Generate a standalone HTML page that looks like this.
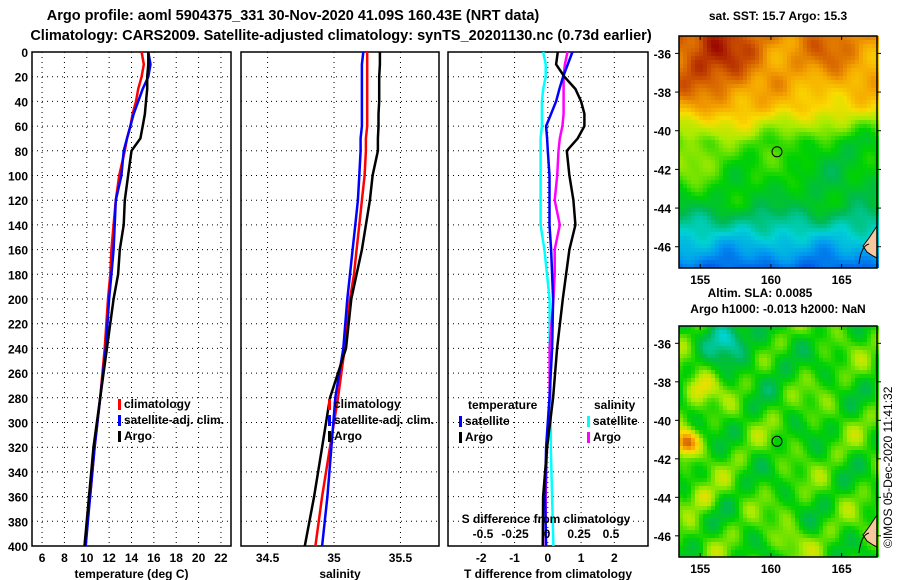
<!DOCTYPE html>
<html><head><meta charset="utf-8"><style>
body{margin:0;background:#fff;}
svg{display:block;font-family:"Liberation Sans",sans-serif;font-weight:bold;}
</style></head><body>
<svg id="c" width="900" height="580" viewBox="0 0 900 580" xmlns="http://www.w3.org/2000/svg">
<text x="293" y="20" font-size="14.5" text-anchor="middle">Argo profile: aoml 5904375_331 30-Nov-2020 41.09S 160.43E (NRT data)</text>
<text x="341" y="40" font-size="14.5" text-anchor="middle">Climatology: CARS2009. Satellite-adjusted climatology: synTS_20201130.nc (0.73d earlier)</text>
<g id="p1"></g>
<g id="p2"></g>
<g id="p3"></g>
<g id="m1"></g>
<g id="m2"></g>
<text x="778" y="20" font-size="12" text-anchor="middle">sat. SST: 15.7 Argo: 15.3</text>
<text x="760" y="297" font-size="12" text-anchor="middle">Altim. SLA: 0.0085</text>
<text x="778" y="313" font-size="12" text-anchor="middle">Argo h1000: -0.013 h2000: NaN</text>
<text x="0" y="0" font-size="12" font-weight="normal" transform="translate(892,548) rotate(-90)">©IMOS 05-Dec-2020 11:41:32</text>
</svg>
<script>
const depths=[0,10,20,30,40,50,60,70,80,100,120,140,160,180,200,240,280,320,360,400];
const tArgo=[15.5,15.5,15.4,15.4,15.3,15.2,15.0,14.8,14.0,13.7,13.4,13.3,12.95,12.8,12.4,11.8,11.2,10.6,10.2,9.8];
const tClim=[14.9,15.1,14.9,14.6,14.4,14.1,13.9,13.6,13.4,12.9,12.6,12.4,12.2,12.1,11.9,11.6,11.2,10.7,10.3,9.8];
const tSat=[15.5,15.7,15.5,15.0,14.6,14.2,13.9,13.6,13.3,13.1,12.6,12.5,12.4,12.2,12.0,11.7,11.2,10.7,10.3,9.9];
const sArgo=[35.345,35.345,35.34,35.34,35.34,35.335,35.335,35.33,35.33,35.29,35.27,35.24,35.21,35.17,35.13,35.09,34.97,34.91,34.85,34.78];
const sClim=[35.25,35.25,35.25,35.25,35.25,35.25,35.25,35.24,35.24,35.23,35.21,35.19,35.17,35.15,35.12,35.08,35.03,34.97,34.91,34.86];
const sSat=[35.22,35.21,35.21,35.21,35.21,35.21,35.21,35.20,35.20,35.19,35.18,35.16,35.14,35.12,35.10,35.07,35.01,34.98,34.95,34.91];
const dTSat=[0.74,0.6,0.46,0.35,0.25,0.1,-0.05,-0.02,0,0.05,0.05,0.05,0.1,0.13,0.16,0.13,0.05,-0.05,-0.08,-0.05];
const dTArgo=[0.3,0.25,0.5,0.83,1.0,1.1,1.1,0.9,0.57,0.65,0.77,0.83,0.65,0.55,0.45,0.28,0.16,-0.02,-0.14,-0.15];
const dSSat=[-0.03,-0.01,-0.01,-0.03,-0.04,-0.04,-0.04,-0.05,-0.05,-0.05,-0.05,-0.05,-0.02,0.0,0.02,0.02,0.03,0.03,0.04,0.05];
const dSArgo=[0.16,0.14,0.13,0.13,0.13,0.13,0.12,0.1,0.09,0.08,0.06,0.1,0.06,0.06,0.05,0.02,0.02,0.0,-0.01,-0.01];
const depthTicks=[0,20,40,60,80,100,120,140,160,180,200,220,240,260,280,300,320,340,360,380,400];
const tTicks=[6,8,10,12,14,16,18,20,22];
const sTicks=[34.5,35,35.5];
const dTTicks=[-2,-1,0,1,2];
const dSTicks=[-0.5,-0.25,0,0.25,0.5];
const latTicks=[-36,-38,-40,-42,-44,-46];
const lonTicks=[155,160,165];

const NS='http://www.w3.org/2000/svg';
function mk(parent,tag,attrs,text){const e=document.createElementNS(NS,tag);for(const k in attrs)e.setAttribute(k,attrs[k]);if(text!==undefined)e.textContent=text;parent.appendChild(e);return e;}
const Y0=52,Y1=546;
const yD=d=>Y0+(d/400)*(Y1-Y0);
function lin(d0,d1,r0,r1){return v=>r0+(v-d0)/(d1-d0)*(r1-r0);}

function panel(g,x0,x1,xs,xt,xlabel,showY){
  mk(g,'rect',{x:x0,y:Y0,width:x1-x0,height:Y1-Y0,fill:'#fff',stroke:'#000','stroke-width':1.5});
  depthTicks.forEach(d=>{
    if(d>0&&d<400){const l=mk(g,'line',{x1:x0,x2:x1,y1:yD(d),y2:yD(d),stroke:'#000','stroke-dasharray':'1,4'});}
    if(showY){const t=mk(g,'text',{x:x0-4,y:yD(d)+5,'font-size':12,'text-anchor':'end'},d);}
  });
  xt.forEach(v=>{
    const x=xs(v);
    const l=mk(g,'line',{x1:x,x2:x,y1:Y0,y2:Y1,stroke:'#000','stroke-dasharray':'1,4'});
    
    const t=mk(g,'text',{x:x,y:562,'font-size':12,'text-anchor':'middle'},v);
    
  });
  const t=mk(g,'text',{x:(x0+x1)/2,y:578,'font-size':12,'text-anchor':'middle'},xlabel);
  
}
function series(g,vals,xs,color,name){
  const pts=vals.map((v,i)=>xs(v).toFixed(1)+','+yD(depths[i]).toFixed(1)).join(' ');
  const p=mk(g,'polyline',{points:pts,fill:'none',stroke:color,'stroke-width':2.5});
  
  
}
function legend(g,x,y,items){
  items.forEach((it,i)=>{
    const yy=y+i*16;
    const r=mk(g,'rect',{x:x,y:yy-9,width:3,height:11,fill:it[1]});
    
    const t=mk(g,'text',{x:x+6,y:yy,'font-size':12},it[0]);
    
  });
}
const p1=document.getElementById('p1');
const xT=lin(5.1,22.9,32,231);
panel(p1,32,231,xT,tTicks,'temperature (deg C)',true);
series(p1,tClim,xT,'#f00','temp-climatology-line');
series(p1,tSat,xT,'#00f','temp-satellite-line');
series(p1,tArgo,xT,'#000','temp-argo-line');
legend(p1,118,408,[['climatology','#f00'],['satellite-adj. clim.','#00f'],['Argo','#000']]);
const p2=document.getElementById('p2');
const xS=lin(34.3,35.79,241,439);
panel(p2,241,439,xS,sTicks,'salinity',false);
series(p2,sClim,xS,'#f00','sal-climatology-line');
series(p2,sSat,xS,'#00f','sal-satellite-line');
series(p2,sArgo,xS,'#000','sal-argo-line');
legend(p2,328,408,[['climatology','#f00'],['satellite-adj. clim.','#00f'],['Argo','#000']]);
const p3=document.getElementById('p3');
const xdT=lin(-3,3,448,647.6);
const xdS=lin(0,0.25,547,579);
panel(p3,448,648,xdT,dTTicks,'T difference from climatology',false);
series(p3,dSSat,xdS,'#0ff','dsal-satellite-line');
series(p3,dSArgo,xdS,'#f0f','dsal-argo-line');
series(p3,dTSat,xdT,'#00f','dtemp-satellite-line');
series(p3,dTArgo,xdT,'#000','dtemp-argo-line');
let tt=mk(p3,'text',{x:468,y:409,'font-size':12},'temperature');

tt=mk(p3,'text',{x:594,y:409,'font-size':12},'salinity');

legend(p3,459,425,[['satellite','#00f'],['Argo','#000']]);
legend(p3,587,425,[['satellite','#0ff'],['Argo','#f0f']]);
tt=mk(p3,'text',{x:546,y:523,'font-size':12,'text-anchor':'middle'},'S difference from climatology');

dSTicks.forEach(v=>{const t=mk(p3,'text',{x:xdS(v),y:538,'font-size':12,'text-anchor':'middle'},v);});

const cmStops=[[0,[0,0,130]],[0.15,[0,40,220]],[0.3,[0,150,240]],[0.4,[0,210,210]],[0.5,[0,185,80]],[0.58,[0,210,0]],[0.68,[170,235,0]],[0.76,[250,220,0]],[0.84,[245,165,0]],[0.92,[210,90,0]],[1,[150,0,0]]];
function cmap(v){v=Math.max(0,Math.min(1,v));
  for(let i=1;i<cmStops.length;i++){if(v<=cmStops[i][0]){const a=cmStops[i-1],b=cmStops[i],f=(v-a[0])/(b[0]-a[0]);
    return 'rgb('+a[1].map((c,k)=>Math.round(c+(b[1][k]-c)*f)).join(',')+')';}}
  return 'rgb(150,0,0)';}
function noise(x,y,s){return Math.sin(x*0.07+s)*Math.cos(y*0.08+s*2)+0.6*Math.sin(x*0.13+y*0.1+s*3)+0.4*Math.cos(x*0.19-y*0.15+s);}
function bump(x,y,cx,cy,r){return Math.exp(-((x-cx)*(x-cx)+(y-cy)*(y-cy))/(r*r));}
function map(id,top,bot,fieldFn){
  const g=document.getElementById(id);
  const L=679,R=877,cs=4;
  for(let y=top;y<bot;y+=cs)for(let x=L;x<R;x+=cs){
    mk(g,'rect',{x:x,y:y,width:cs,height:Math.min(cs,bot-y),fill:cmap(fieldFn(x-L,y-top,(y-top)/(bot-top)))});
  }
  mk(g,'path',{d:`M${R},${bot-42} L${R-8},${bot-30} L${R-14},${bot-22} L${R-10},${bot-16} L${R-4},${bot-12} L${R},${bot-10} Z`,fill:'#f6c8a0',stroke:'#000'});
  mk(g,'path',{d:`M${R-18},${bot-4} Q${R-16},${bot-22} ${R-8},${bot-24}`,fill:'none',stroke:'#000'});
  mk(g,'rect',{x:L,y:top,width:R-L,height:bot-top,fill:'none',stroke:'#000','stroke-width':1.5});
  const lonS=lin(153.5,167.5,L,R), latS=lin(-35.1,-47.1,top,bot);
  lonTicks.forEach(v=>{const x=lonS(v);mk(g,'line',{x1:x,x2:x,y1:top,y2:top+4,stroke:'#000'});mk(g,'line',{x1:x,x2:x,y1:bot,y2:bot-4,stroke:'#000'});
    const t=mk(g,'text',{x:x,y:bot+16,'font-size':12,'text-anchor':'middle'},v);});
  latTicks.forEach(v=>{const y=latS(v);mk(g,'line',{x1:L-4,x2:L,y1:y,y2:y,stroke:'#000'});mk(g,'line',{x1:R,x2:R+4,y1:y,y2:y,stroke:'#000'});
    const t=mk(g,'text',{x:L-8,y:y+5,'font-size':12,'text-anchor':'end'},v);});
  const c=mk(g,'circle',{cx:lonS(160.43),cy:latS(-41.09),r:5,fill:'none',stroke:'#000'});
  
}
map('m1',36,268,(x,y,f)=>{
  let base;
  if(f<0.3)base=0.86-0.25*f;else if(f<0.45)base=0.785-1.1*(f-0.3);else if(f<0.72)base=0.62-0.3*(f-0.45);else base=0.539-1.1*(f-0.72);
  base+=0.12*bump(x,y,30,25,50)+0.05*bump(x,y,150,20,30)-0.06*bump(x,y,170,110,45)+0.06*bump(x,y,15,130,30);
  return base+0.03*noise(x,y,1);});
map('m2',326,557,(x,y,f)=>{
  let v=0.6+0.06*noise(x,y,2);
  v+=0.3*bump(x,y,5,115,12)+0.12*bump(x,y,20,60,15)+0.1*bump(x,y,20,170,14)+0.08*bump(x,y,110,215,15);
  v-=0.18*bump(x,y,45,10,22)+0.05*bump(x,y,90,35,25);
  return v;});
</script>
</body></html>
